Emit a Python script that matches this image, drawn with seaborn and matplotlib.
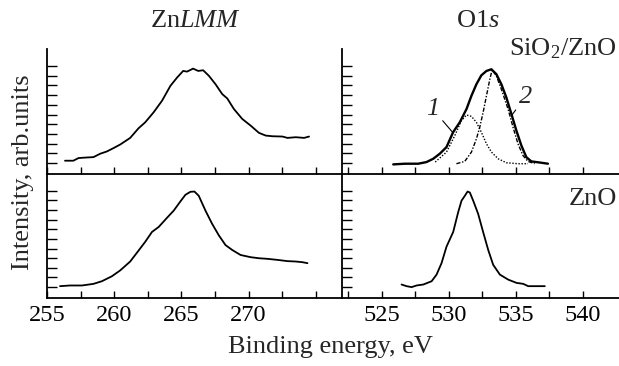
import matplotlib
matplotlib.use("Agg")
import matplotlib.pyplot as plt
import numpy as np
import seaborn as sns
import pandas as pd

# ZnLMM, SiO2/ZnO (top)
znlmm_top_x = [256.34, 256.96, 257.34, 257.71, 258.46, 258.96, 259.45, 259.95, 260.45, 261.19,
               261.81, 262.31, 262.93, 263.56, 264.18, 264.68, 265.13, 265.42, 265.87, 266.25,
               266.62, 267.05, 267.54, 268.04, 268.41, 268.91, 269.53, 270.15, 270.77, 271.27,
               271.77, 272.52, 272.89, 273.51, 274.13, 274.5]
znlmm_top_y = [0.24, 0.24, 0.51, 0.55, 0.61, 0.96, 1.19, 1.54, 1.91, 2.59,
               3.58, 4.2, 5.22, 6.42, 7.95, 8.81, 9.49, 9.42, 9.73, 9.49,
               9.56, 8.98, 8.12, 7.1, 6.66, 5.56, 4.54, 3.86, 3.11, 2.83,
               2.76, 2.73, 2.59, 2.66, 2.59, 2.73]

# ZnLMM, ZnO (bottom)
znlmm_bot_x = [255.97, 256.72, 257.61, 258.46, 259.08, 259.83, 260.45, 261.19, 261.81, 262.31,
               262.81, 263.31, 263.93, 264.43, 264.93, 265.3, 265.67, 265.97, 266.29, 266.79,
               267.28, 267.78, 268.28, 268.78, 269.4, 270.15, 270.77, 271.39, 272.14, 272.89,
               273.51, 274.0, 274.38]
znlmm_bot_y = [0.1, 0.17, 0.17, 0.34, 0.61, 1.13, 1.74, 2.66, 3.79, 4.71,
               5.73, 6.25, 7.2, 7.95, 8.91, 9.59, 9.9, 9.93, 9.49, 7.95,
               6.59, 5.39, 4.37, 3.86, 3.34, 3.11, 3.0, 2.94, 2.83, 2.7,
               2.66, 2.59, 2.49]

# O1s, SiO2/ZnO: measured spectrum
o1s_top_x = [525.87, 526.74, 527.73, 528.35, 528.85, 529.34, 529.84, 530.33, 530.83, 531.33,
             531.7, 532.07, 532.44, 532.82, 533.19, 533.56, 533.93, 534.3, 534.68, 535.05,
             535.42, 535.79, 536.16, 536.54, 536.91, 537.4]
o1s_top_y = [-0.14, -0.07, -0.07, 0.1, 0.44, 0.96, 1.64, 3.17, 4.2, 5.56,
             6.93, 8.12, 9.04, 9.49, 9.66, 9.15, 8.12, 6.76, 5.05, 3.34,
             1.81, 0.61, 0.17, 0.1, 0.03, -0.07]
# component 1 (dotted)
comp1_x = [529.0, 529.84, 530.46, 530.95, 531.33, 531.7, 532.07, 532.44, 532.82, 533.19,
           533.69, 534.3, 535.17, 535.91]
comp1_y = [0.1, 1.13, 2.83, 4.37, 4.95, 4.81, 4.2, 3.17, 1.98, 1.13,
           0.44, 0.03, -0.07, -0.07]
# component 2 (dash-dot)
comp2_x = [530.58, 531.2, 531.7, 532.07, 532.32, 532.57, 532.82, 533.07, 533.24, 533.56,
           533.93, 534.43, 534.8, 535.17, 535.54, 535.91, 536.41]
comp2_y = [-0.07, 0.17, 1.13, 2.49, 3.69, 5.22, 6.93, 8.63, 9.59, 8.98,
           7.61, 5.56, 3.69, 1.98, 0.78, 0.17, -0.07]

# O1s, ZnO
o1s_bot_x = [526.49, 526.86, 527.24, 527.61, 528.11, 528.73, 529.1, 529.47, 529.84, 530.34,
             530.71, 530.96, 531.21, 531.41, 531.58, 531.83, 532.2, 532.57, 532.95, 533.32,
             533.82, 534.44, 535.06, 535.56, 535.93, 536.55, 537.17]
o1s_bot_y = [0.27, 0.1, 0.0, 0.17, 0.27, 0.61, 1.3, 2.49, 4.2, 5.73,
             7.78, 8.98, 9.49, 9.93, 9.83, 8.98, 7.61, 5.73, 3.86, 2.32,
             1.3, 0.78, 0.44, 0.34, 0.1, 0.1, 0.1]

sns.set_theme(style="ticks")
plt.rcParams['font.family'] = ['Liberation Serif', 'DejaVu Serif']
plt.rcParams['mathtext.fontset'] = 'custom'
plt.rcParams['mathtext.rm'] = 'Liberation Serif'
plt.rcParams['mathtext.it'] = 'Liberation Serif:italic'

fig = plt.figure(figsize=(6.19, 3.66), dpi=100)
x0, xm, x1 = 47 / 619, 342 / 619, 1.0
yb, ym, yt = 68 / 366, 192 / 366, 317 / 366
ax_tl = fig.add_axes([x0, ym, xm - x0, yt - ym])
ax_bl = fig.add_axes([x0, yb, xm - x0, ym - yb])
ax_tr = fig.add_axes([xm, ym, x1 - xm, yt - ym])
ax_br = fig.add_axes([xm, yb, x1 - xm, ym - yb])

kw = dict(color='black', lw=1.3, sort=False, estimator=None)
sns.lineplot(x=znlmm_top_x, y=znlmm_top_y, ax=ax_tl, **kw)
sns.lineplot(x=znlmm_bot_x, y=znlmm_bot_y, ax=ax_bl, **kw)
sns.lineplot(x=comp1_x, y=comp1_y, ax=ax_tr, color='black', lw=1.0, linestyle=(0, (1, 1.2)),
             sort=False, estimator=None)
sns.lineplot(x=comp2_x, y=comp2_y, ax=ax_tr, color='black', lw=1.0, linestyle=(0, (3, 1.2, 1, 1.2)),
             sort=False, estimator=None)
sns.lineplot(x=o1s_top_x, y=o1s_top_y, ax=ax_tr, color='black', lw=1.7, sort=False, estimator=None)
sns.lineplot(x=o1s_bot_x, y=o1s_bot_y, ax=ax_br, **kw)

for ax in [ax_tl, ax_bl, ax_tr, ax_br]:
    ax.set_ylim(-1.13, 11.75)
    ax.set_yticks(np.arange(0, 11))
    ax.set_yticklabels([])
    ax.set_xlabel('')
    ax.set_ylabel('')
    ax.patch.set_alpha(0)
    for s in ['top', 'right']:
        ax.spines[s].set_visible(False)
    for s in ['left', 'bottom']:
        ax.spines[s].set_linewidth(1.3)
        ax.spines[s].set_color('black')
    ax.tick_params(direction='in', which='both', colors='black', width=1.0,
                   labelsize=17.5, pad=5)
    ax.tick_params(axis='y', length=7)
    ax.tick_params(axis='x', length=5)

left_ticks = [255, 257.5, 260, 262.5, 265, 267.5, 270, 272.5, 275]
right_ticks = [522.5, 525, 527.5, 530, 532.5, 535, 537.5, 540]
for ax in [ax_tl, ax_bl]:
    ax.set_xlim(255, 276.95)
    ax.set_xticks(left_ticks)
for ax in [ax_tr, ax_br]:
    ax.set_xlim(522.05, 542.7)
    ax.set_xticks(right_ticks)
ax_tl.set_xticklabels([])
ax_tr.set_xticklabels([])
ax_bl.set_xticklabels(['255', '', '260', '', '265', '', '270', '', ''])
ax_br.set_xticklabels(['', '525', '', '530', '', '535', '', '540'])

fs = 19
fig.text(196 / 619, 1 - 21 / 366, r'Zn$\mathit{LMM}$', ha='center', va='center', fontsize=fs)
fig.text(478 / 619, 1 - 21 / 366, r'O1$\mathit{s}$', ha='center', va='center', fontsize=fs)
fig.text(617 / 619, 1 - 49 / 366, r'SiO$_2$/ZnO', ha='right', va='center', fontsize=fs)
fig.text(617 / 619, 1 - 199 / 366, 'ZnO', ha='right', va='center', fontsize=fs)

ax_tr.annotate('1', xy=(530.33, 3.11), xytext=(528.82, 5.55), fontsize=fs, style='italic',
               ha='center', va='center',
               arrowprops=dict(arrowstyle='-', color='black', lw=0.8, shrinkA=0, shrinkB=0))
ax_tr.annotate('2', xy=(534.68, 4.88), xytext=(535.74, 6.83), fontsize=fs, style='italic',
               ha='center', va='center',
               arrowprops=dict(arrowstyle='-', color='black', lw=0.8, shrinkA=0, shrinkB=0))

fig.text(330 / 619, 1 - 347 / 366, 'Binding energy, eV', ha='center', va='center', fontsize=fs)
fig.text(23 / 619, 1 - 172 / 366, 'Intensity, arb.units', ha='center', va='center',
         rotation=90, fontsize=fs)

fig.savefig('out.png', dpi=100)
